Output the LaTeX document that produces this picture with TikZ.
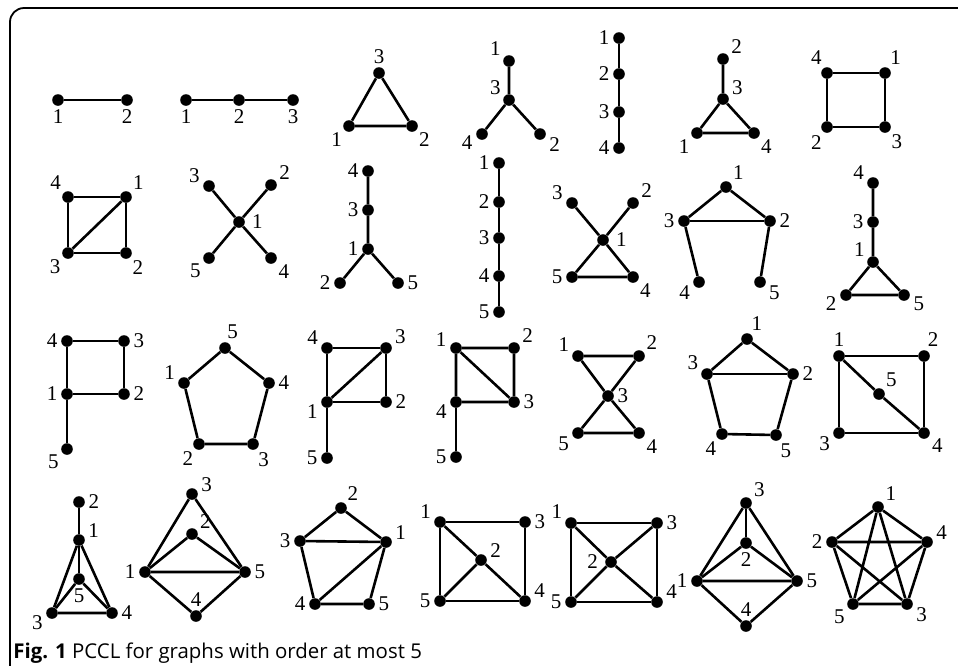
\documentclass[tikz,border=0pt]{standalone}
\usepackage{fontspec}
\setmainfont{Liberation Serif}
\newfontfamily\capfont{Open Sans}
\usetikzlibrary{positioning}

\begin{document}
\begin{tikzpicture}[
  x=0.5pt, y=-0.5pt,
  vtx/.style={circle, fill=black, inner sep=0pt, minimum size=5.8pt},
  lnk/.style={line width=1.3pt},
  far/.style={label distance=4pt},
  every label/.style={font=\fontsize{10.5}{11}\selectfont, inner sep=0.3pt},
  label distance=1.2pt
]
\useasboundingbox (0,0) rectangle (958,665);
\draw[line width=0.9pt, rounded corners=7pt] (10,668) |- (962,8);

% --- row 1 ---
\node[vtx, far, label=below:1] (a1) at (58,100) {};
\node[vtx, far, label=below:2] (a2) at (127,100) {};
\draw[lnk] (a1) -- (a2);

\node[vtx, far, label=below:1] (b1) at (186,100) {};
\node[vtx, far, label=below:2] (b2) at (239,100) {};
\node[vtx, far, label=below:3] (b3) at (293,100) {};
\draw[lnk] (b1) -- (b2) -- (b3);

\node[vtx, label=above:3] (c3) at (379,73) {};
\node[vtx, label=225:1] (c1) at (349,126) {};
\node[vtx, label=315:2] (c2) at (412,126) {};
\draw[lnk] (c1) -- (c2) -- (c3) -- (c1);

\node[vtx, label=150:1] (d1) at (509,61) {};
\node[vtx, label=150:3] (d3) at (509,100) {};
\node[vtx, label=185:4] (d4) at (482,134) {};
\node[vtx, label=345:2] (d2) at (540,134) {};
\draw[lnk] (d1) -- (d3) -- (d4);
\draw[lnk] (d3) -- (d2);

\node[vtx, label=left:1] (e1) at (619,38) {};
\node[vtx, label=left:2] (e2) at (619,74) {};
\node[vtx, label=left:3] (e3) at (619,112) {};
\node[vtx, label=left:4] (e4) at (619,148) {};
\draw[lnk] (e1) -- (e2) -- (e3) -- (e4);

\node[vtx, label=30:2] (f2) at (723,59) {};
\node[vtx, label=20:3] (f3) at (723,99) {};
\node[vtx, label=220:1] (f1) at (697,133) {};
\node[vtx, label=315:4] (f4) at (754,133) {};
\draw[lnk] (f2) -- (f3) -- (f1) -- (f4) -- (f3);

\node[vtx, label=120:4] (g4) at (827,73) {};
\node[vtx, label=60:1] (g1) at (885,73) {};
\node[vtx, label=240:2] (g2) at (827,127) {};
\node[vtx, label=310:3] (g3) at (885,127) {};
\draw[lnk] (g4) -- (g1) -- (g3) -- (g2) -- (g4);

% --- row 2 ---
\node[vtx, label=135:4] (h4) at (68,197) {};
\node[vtx, label=45:1] (h1) at (126,197) {};
\node[vtx, label=220:3] (h3) at (68,253) {};
\node[vtx, label=310:2] (h2) at (126,253) {};
\draw[lnk] (h4) -- (h1) -- (h2) -- (h3) -- (h4);
\draw[lnk] (h3) -- (h1);

\node[vtx, label={[label distance=3pt]right:1}] (i1) at (239,222) {};
\node[vtx, label=165:3] (i3) at (209,186) {};
\node[vtx, label=30:2] (i2) at (271,185) {};
\node[vtx, label=210:5] (i5) at (209,258) {};
\node[vtx, label=320:4] (i4) at (271,258) {};
\draw[lnk] (i3) -- (i1) -- (i4);
\draw[lnk] (i5) -- (i1) -- (i2);

\node[vtx, label=left:4] (j4) at (368,171) {};
\node[vtx, label=left:3] (j3) at (368,210) {};
\node[vtx, label=left:1] (j1) at (368,249) {};
\node[vtx, label=left:2] (j2) at (340,283) {};
\node[vtx, label=right:5] (j5) at (398,283) {};
\draw[lnk] (j4) -- (j3) -- (j1) -- (j2);
\draw[lnk] (j1) -- (j5);

\node[vtx, label=left:1] (k1) at (499,163) {};
\node[vtx, label=left:2] (k2) at (499,202) {};
\node[vtx, label=left:3] (k3) at (499,238) {};
\node[vtx, label=left:4] (k4) at (499,276) {};
\node[vtx, label=left:5] (k5) at (499,312) {};
\draw[lnk] (k1) -- (k2) -- (k3) -- (k4) -- (k5);

\node[vtx, label={[label distance=3pt]right:1}] (l1) at (603,240) {};
\node[vtx, label=165:3] (l3) at (572,203) {};
\node[vtx, label=30:2] (l2) at (633,203) {};
\node[vtx, label=left:5] (l5) at (572,277) {};
\node[vtx, label=315:4] (l4) at (633,277) {};
\draw[lnk] (l3) -- (l1) -- (l4) -- (l5) -- (l1) -- (l2);

\node[vtx, label=45:1] (m1) at (726,187) {};
\node[vtx, label=left:3] (m3) at (684,221) {};
\node[vtx, label=right:2] (m2) at (770,221) {};
\node[vtx, label=200:4] (m4) at (699,282) {};
\node[vtx, label=340:5] (m5) at (760,282) {};
\draw[lnk] (m4) -- (m3) -- (m1) -- (m2) -- (m5);
\draw[lnk] (m3) -- (m2);

\node[vtx, label=160:4] (n4) at (873,183) {};
\node[vtx, label=left:3] (n3) at (873,222) {};
\node[vtx, label=150:1] (n1) at (873,262) {};
\node[vtx, label=185:2] (n2) at (846,295) {};
\node[vtx, label=355:5] (n5) at (904,295) {};
\draw[lnk] (n4) -- (n3) -- (n1) -- (n2) -- (n5) -- (n1);

% --- row 3 ---
\node[vtx, label=left:4] (o4) at (67,341) {};
\node[vtx, label=right:3] (o3) at (124,341) {};
\node[vtx, label=left:1] (o1) at (67,394) {};
\node[vtx, label=right:2] (o2) at (124,394) {};
\node[vtx, label=210:5] (o5) at (67,449) {};
\draw[lnk] (o4) -- (o3) -- (o2) -- (o1) -- (o4);
\draw[lnk] (o1) -- (o5);

\node[vtx, label=80:5] (p5) at (225,348) {};
\node[vtx, label=160:1] (p1) at (184,383) {};
\node[vtx, label=right:4] (p4) at (269,383) {};
\node[vtx, label=235:2] (p2) at (199,444) {};
\node[vtx, label=300:3] (p3) at (253,444) {};
\draw[lnk] (p5) -- (p4) -- (p3) -- (p2) -- (p1) -- (p5);

\node[vtx, label=160:4] (q4) at (327,348) {};
\node[vtx, label=20:3] (q3) at (386,348) {};
\node[vtx, label=190:1] (q1) at (327,402) {};
\node[vtx, label=right:2] (q2) at (386,402) {};
\node[vtx, label=left:5] (q5) at (327,458) {};
\draw[lnk] (q4) -- (q3) -- (q2) -- (q1) -- (q4);
\draw[lnk] (q1) -- (q3);
\draw[lnk] (q1) -- (q5);

\node[vtx, label=175:1] (r1) at (456,348) {};
\node[vtx, label=30:2] (r2) at (514,348) {};
\node[vtx, label=190:4] (r4) at (456,402) {};
\node[vtx, label=right:3] (r3) at (514,402) {};
\node[vtx, label=left:5] (r5) at (456,457) {};
\draw[lnk] (r1) -- (r2) -- (r3) -- (r4) -- (r1) -- (r3);
\draw[lnk] (r4) -- (r5);

\node[vtx, label=155:1] (s1) at (578,356) {};
\node[vtx, label=40:2] (s2) at (639,356) {};
\node[vtx, label=right:3] (s3) at (608,396) {};
\node[vtx, label=200:5] (s5) at (578,433) {};
\node[vtx, label=320:4] (s4) at (639,433) {};
\draw[lnk] (s1) -- (s2) -- (s3) -- (s1);
\draw[lnk] (s5) -- (s4) -- (s3) -- (s5);

\node[vtx, label=65:1] (t1) at (747,339) {};
\node[vtx, label=155:3] (t3) at (707,374) {};
\node[vtx, label=right:2] (t2) at (793,374) {};
\node[vtx, label=235:4] (t4) at (722,434) {};
\node[vtx, label=295:5] (t5) at (776,435) {};
\draw[lnk] (t1) -- (t2) -- (t5) -- (t4) -- (t3) -- (t1);
\draw[lnk] (t3) -- (t2);

\node[vtx, label=above:1] (u1) at (839,356) {};
\node[vtx, label=70:2] (u2) at (924,356) {};
\node[vtx, label=200:3] (u3) at (839,433) {};
\node[vtx, label=325:4] (u4) at (924,433) {};
\node[vtx, label=45:5] (u5) at (879,394) {};
\draw[lnk] (u1) -- (u2) -- (u4) -- (u3) -- (u1);
\draw[lnk] (u1) -- (u5) -- (u4);

% --- row 4 ---
\node[vtx, label=right:2] (w2) at (79,502) {};
\node[vtx, label=10:1] (w1) at (79,540) {};
\node[vtx, far, label=below:5] (w5) at (79,579) {};
\node[vtx, label=190:3] (w3) at (52,613) {};
\node[vtx, label=right:4] (w4) at (112,613) {};
\draw[lnk] (w2) -- (w1) -- (w5);
\draw[lnk] (w3) -- (w1) -- (w4) -- (w3);
\draw[lnk] (w3) -- (w5) -- (w4);

\node[vtx, label=10:3] (x3) at (192,494) {};
\node[vtx, label=35:2] (x2) at (192,534) {};
\node[vtx, label=left:1] (x1) at (145,572) {};
\node[vtx, label=right:5] (x5) at (245,572) {};
\node[vtx, label=above:4] (x4) at (196,616) {};
\draw[lnk] (x1) -- (x3) -- (x5) -- (x1);
\draw[lnk] (x1) -- (x2) -- (x5);
\draw[lnk] (x1) -- (x4) -- (x5);

\node[vtx, label=50:2] (y2) at (341,508) {};
\node[vtx, label=10:1] (y1) at (386,542) {};
\node[vtx, label=left:3] (y3) at (300,541) {};
\node[vtx, label=left:4] (y4) at (315,604) {};
\node[vtx, label=right:5] (y5) at (369,604) {};
\draw[lnk] (y3) -- (y2) -- (y1) -- (y3);
\draw[lnk] (y3) -- (y4) -- (y5) -- (y1) -- (y4);

\node[vtx, label=160:1] (z1) at (440,522) {};
\node[vtx, label=right:3] (z3) at (525,522) {};
\node[vtx, label=10:2] (z2) at (481,560) {};
\node[vtx, label=left:5] (z5) at (440,601) {};
\node[vtx, label=15:4] (z4) at (525,601) {};
\draw[lnk] (z1) -- (z3) -- (z4) -- (z5) -- (z1);
\draw[lnk] (z1) -- (z2) -- (z4);
\draw[lnk] (z5) -- (z2);

\node[vtx, label=155:1] (aa1) at (571,523) {};
\node[vtx, label={[label distance=3pt]left:2}] (aa2) at (611,562) {};
\node[vtx, label=left:5] (aa5) at (571,602) {};
\node[vtx, label=right:3] (aa3) at (657,523) {};
\node[vtx, label=15:4] (aa4) at (657,602) {};
\draw[lnk] (aa1) -- (aa3) -- (aa4) -- (aa5) -- (aa1);
\draw[lnk] (aa1) -- (aa2) -- (aa4);
\draw[lnk] (aa5) -- (aa2) -- (aa3);

\node[vtx, label=35:3] (ab3) at (746,503) {};
\node[vtx, far, label=below:2] (ab2) at (746,543) {};
\node[vtx, label=left:1] (ab1) at (697,581) {};
\node[vtx, label=right:5] (ab5) at (797,581) {};
\node[vtx, label=above:4] (ab4) at (746,626) {};
\draw[lnk] (ab1) -- (ab3) -- (ab5) -- (ab1);
\draw[lnk] (ab3) -- (ab2);
\draw[lnk] (ab1) -- (ab2) -- (ab5);
\draw[lnk] (ab1) -- (ab4) -- (ab5);

\node[vtx, label=40:1] (ac1) at (878,507) {};
\node[vtx, label=left:2] (ac2) at (832,542) {};
\node[vtx, label=10:4] (ac4) at (927,542) {};
\node[vtx, label=210:5] (ac5) at (853,604) {};
\node[vtx, label=345:3] (ac3) at (907,604) {};
\draw[lnk] (ac1) -- (ac4) -- (ac3) -- (ac5) -- (ac2) -- (ac1);
\draw[lnk] (ac1) -- (ac5) -- (ac4) -- (ac2) -- (ac3) -- (ac1);

\node[anchor=base west, inner sep=0pt,
      font=\capfont\fontsize{10.2}{12}\selectfont] (cap) at (13,658)
  {\textbf{Fig. 1} PCCL for graphs with order at most 5};
\end{tikzpicture}
\end{document}
